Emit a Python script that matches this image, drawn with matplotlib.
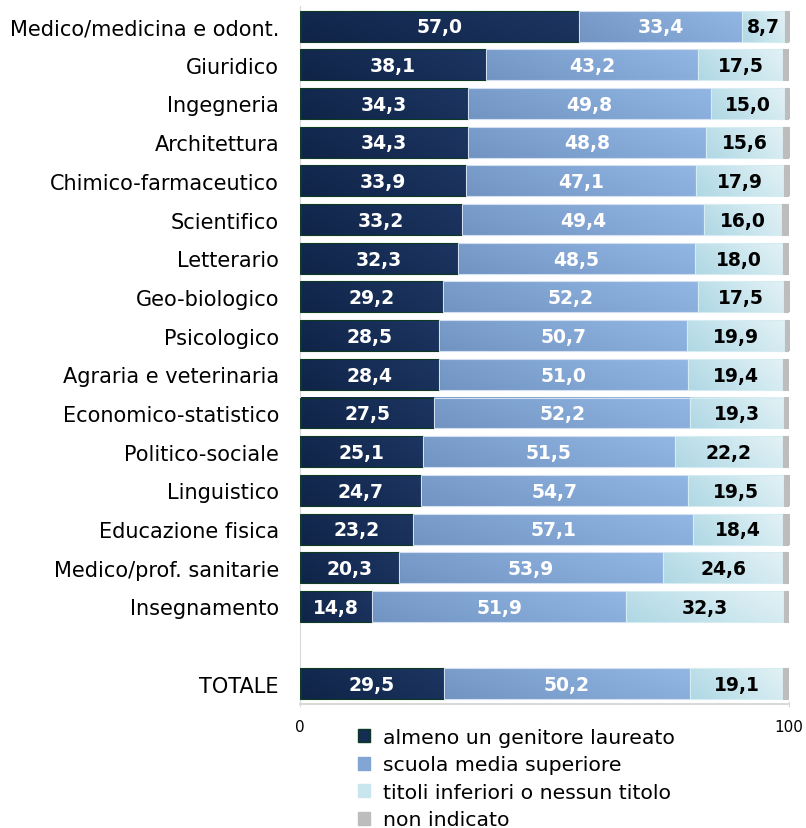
import matplotlib.pyplot as plt
import numpy as np
from matplotlib.colors import to_rgb
from matplotlib.patches import Patch

categories = [
    "Medico/medicina e odont.", "Giuridico", "Ingegneria", "Architettura",
    "Chimico-farmaceutico", "Scientifico", "Letterario", "Geo-biologico",
    "Psicologico", "Agraria e veterinaria", "Economico-statistico",
    "Politico-sociale", "Linguistico", "Educazione fisica",
    "Medico/prof. sanitarie", "Insegnamento", "TOTALE",
]
laureato = [57.0, 38.1, 34.3, 34.3, 33.9, 33.2, 32.3, 29.2, 28.5, 28.4,
            27.5, 25.1, 24.7, 23.2, 20.3, 14.8, 29.5]
media_sup = [33.4, 43.2, 49.8, 48.8, 47.1, 49.4, 48.5, 52.2, 50.7, 51.0,
             52.2, 51.5, 54.7, 57.1, 53.9, 51.9, 50.2]
inferiori = [8.7, 17.5, 15.0, 15.6, 17.9, 16.0, 18.0, 17.5, 19.9, 19.4,
             19.3, 22.2, 19.5, 18.4, 24.6, 32.3, 19.1]
non_indicato = [0.9, 1.2, 0.9, 1.3, 1.1, 1.4, 1.2, 1.1, 0.9, 1.2,
                1.0, 1.2, 1.1, 1.3, 1.2, 1.0, 1.2]

# name, values, gradient (bottom-left, top-right), edge, label colour
series = [
    ("almeno un genitore laureato", laureato, ("#0f2447", "#1d3562"), "#0d3a22", "white"),
    ("scuola media superiore", media_sup, ("#7194c2", "#93b7e4"), "#d3e0f2", "white"),
    ("titoli inferiori o nessun titolo", inferiori, ("#afd8e4", "#e3f2f6"), "#d6ecf3", "black"),
    ("non indicato", non_indicato, ("#bdbdbd", "#bdbdbd"), "#bdbdbd", None),
]

BAR_H = 0.8


def gradient(c0, c1, nx=64, ny=16):
    u = np.linspace(0, 1, nx)[None, :]
    v = np.linspace(1, 0, ny)[:, None]  # row 0 = visual top
    t = (0.75 * u + 0.25 * v)[..., None]
    a, b = np.array(to_rgb(c0)), np.array(to_rgb(c1))
    return a + (b - a) * t


# TOTALE sits two slots below the last faculty
ypos = np.r_[np.arange(len(categories) - 1), len(categories)]

fig = plt.figure(figsize=(8.06, 8.29), dpi=100)
ax = fig.add_axes([0.372, 0.1496, 0.607, 0.842])

left = np.zeros(len(categories))
handles = []
for i, (name, vals, (c0, c1), edge, txt) in enumerate(series):
    vals = np.array(vals)
    img = gradient(c0, c1)
    for y, l, v in zip(ypos, left, vals):
        ax.imshow(img, extent=(l, l + v, y + BAR_H / 2, y - BAR_H / 2),
                  origin="upper", aspect="auto", interpolation="bilinear",
                  zorder=2)
    ax.barh(ypos, vals, left=left, height=BAR_H, facecolor="none",
            edgecolor=edge, linewidth=0.8, zorder=3)
    if txt:
        for y, l, v in zip(ypos, left, vals):
            ax.text(l + v / 2, y + 0.02, f"{v:.1f}".replace(".", ","),
                    ha="center", va="center", color=txt,
                    fontsize=13.5, fontweight="bold", zorder=4)
    mid = img[img.shape[0] // 2, img.shape[1] // 2]
    handles.append(Patch(facecolor=mid, edgecolor=edge if i == 0 else mid,
                         label=name))
    left += vals

ax.set_xlim(0, 100)
ax.set_ylim(len(categories) + 0.52, -0.52)
ax.set_xticks([0, 100])
ax.set_xticklabels(["0", "100"], fontsize=11)
ax.set_yticks(ypos)
ax.set_yticklabels(categories, fontsize=15)
ax.tick_params(axis="y", length=0, pad=15)
ax.tick_params(axis="x", length=4, direction="inout", color="#d9d9d9", pad=9)
for s in ["top", "right"]:
    ax.spines[s].set_visible(False)
for s in ["left", "bottom"]:
    ax.spines[s].set_color("#d9d9d9")
ax.spines["bottom"].set_linewidth(1.5)

fig.legend(handles=handles, loc="upper left", bbox_to_anchor=(0.444, 0.121),
           frameon=False, fontsize=14.7, handlelength=0.6, handleheight=0.6,
           handletextpad=0.65, labelspacing=0.42, borderpad=0,
           borderaxespad=0)

fig.savefig("out.png", dpi=100)
